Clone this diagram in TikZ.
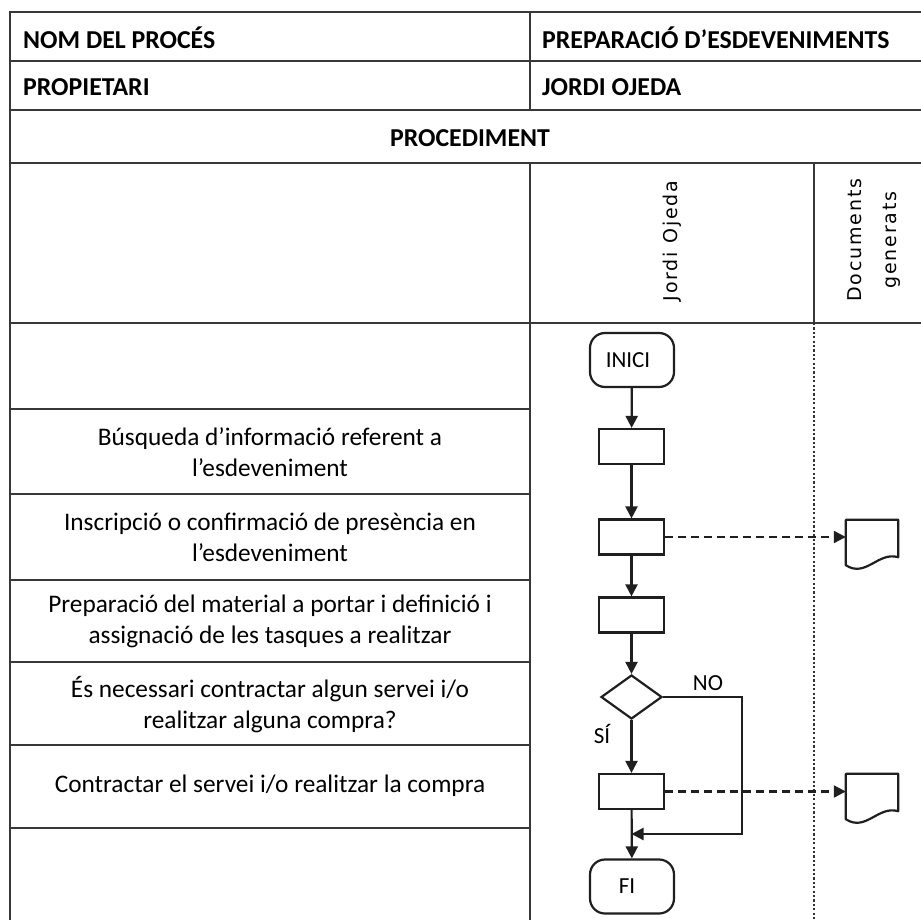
\documentclass[tikz,border=0pt]{standalone}
\usepackage{fontspec}
\setmainfont{Carlito}
\newfontfamily\lanefont[LetterSpace=10]{DejaVu Sans}
\usetikzlibrary{arrows.meta,shapes.geometric}

\tikzset{
  grid/.style={line width=2.6pt, draw=black!78},
  lanesep/.style={line width=2.8pt, draw=black!80, dash pattern=on 2.2pt off 2.2pt},
  flow/.style={line width=2.2pt, draw=black!88},
  arr/.style={flow, -{Triangle[length=12pt,width=12pt]}},
  docarr/.style={arr, dash pattern=on 8pt off 5pt},
  procbox/.style={flow, rectangle, minimum width=65pt, minimum height=35pt, inner sep=0pt},
  term/.style={flow, rectangle, rounded corners=15pt, minimum width=84pt, minimum height=54pt,
    inner sep=0pt, font=\fontsize{23}{26}\selectfont},
  decision/.style={flow, diamond, minimum width=61pt, minimum height=44pt, inner sep=0pt},
  docspot/.style={rectangle, minimum width=52pt, minimum height=48pt, inner sep=0pt},
  rowtext/.style={align=center, inner sep=0pt, font=\fontsize{25.3}{31}\selectfont},
  headtext/.style={inner sep=0pt, font=\bfseries\fontsize{25.8}{28}\selectfont},
  lanetext/.style={align=center, inner sep=0pt, rotate=90, font=\lanefont\fontsize{19}{35}\selectfont},
  branchtext/.style={inner sep=0pt, font=\fontsize{23}{26}\selectfont},
}

\begin{document}
\begin{tikzpicture}[x=1pt,y=-1pt]
\useasboundingbox (0,0) rectangle (921,920);
\fill[white] (0,0) rectangle (921,920);

% --- table frame ---
\draw[grid] (10,940) -- (10,12) -- (925,12);
\draw[grid] (10,61) -- (925,61);
\draw[grid] (10,110) -- (925,110);
\draw[grid] (10,163) -- (925,163);
\draw[grid] (10,323) -- (925,323);
\draw[grid] (530,12) -- (530,110);
\draw[grid] (530,163) -- (530,940);
\draw[grid] (814,163) -- (814,323);
\draw[lanesep] (814,323) -- (814,940);
% rows of the task column
\foreach \yy in {409,494,580,662,745,828}
  \draw[grid] (10,\yy) -- (530,\yy);

% --- header texts ---
\node[headtext, anchor=west] (procname) at (23,38) {NOM DEL PROCÉS};
\node[headtext, anchor=west] (procval) at (542,38) {PREPARACIÓ D’ESDEVENIMENTS};
\node[headtext, anchor=west] (owner) at (23,87) {PROPIETARI};
\node[headtext, anchor=west] (ownerval) at (542,87) {JORDI OJEDA};
\node[headtext] (proc) at (470,138) {PROCEDIMENT};
\node[lanetext] (lane1) at (672,241) {Jordi Ojeda};
\node[lanetext] (lane2) at (874,240) {Documents\\generats};

% --- task descriptions ---
\node[rowtext] (t1) at (270,452) {Búsqueda d’informació referent a\\l’esdeveniment};
\node[rowtext] (t2) at (270,537) {Inscripció o confirmació de presència en\\l’esdeveniment};
\node[rowtext] (t3) at (270,621) {Preparació del material a portar i definició i\\assignació de les tasques a realitzar};
\node[rowtext] (t4) at (270,705) {És necessari contractar algun servei i/o\\realitzar alguna compra?};
\node[rowtext] (t5) at (270,786) {Contractar el servei i/o realitzar la compra};

% --- flowchart ---
\node[term] (start) at (632,360) {\hspace*{-8pt}INICI};
\node[procbox] (b1) at (631.5,446.5) {};
\node[procbox] (b2) at (631.5,537) {};
\node[procbox] (b3) at (631.5,615) {};
\node[decision] (dec) at (631.5,697) {};
\node[procbox] (b4) at (631.5,791.5) {};
\node[term] (end) at (632,886.5) {\hspace*{-10pt}FI};

\node[docspot] (doc1) at (872,544) {};
\node[docspot] (doc2) at (872,798) {};
\foreach \d in {doc1,doc2}
  \draw[flow, line join=round]
    (\d.north west) -- (\d.north east) -- ([shift={(0,-11)}]\d.south east)
    .. controls ([shift={(-20,-17)}]\d.south east) and ([shift={(20,10)}]\d.south west)
    .. ([shift={(0,-3)}]\d.south west) -- cycle;

\draw[arr] (start) -- (b1);
\draw[arr] (b1) -- (b2);
\draw[arr] (b2) -- (b3);
\draw[arr] (b3) -- (dec);
\draw[arr] (dec) -- (b4);
\draw[arr] (b4) -- (end);

\coordinate (noturn) at (742,834);
\coordinate (merge) at (631.5,834);
\draw[arr] (dec.east) -| (noturn) -- (merge);

\draw[docarr] (b2.east) -- (b2.east -| doc1.west);
\draw[docarr] (b4.east) -- (b4.east -| doc2.west);

\node[branchtext] (nolbl) at (708,683) {NO};
\node[branchtext] (silbl) at (602,734) {SÍ};
\end{tikzpicture}
\end{document}
